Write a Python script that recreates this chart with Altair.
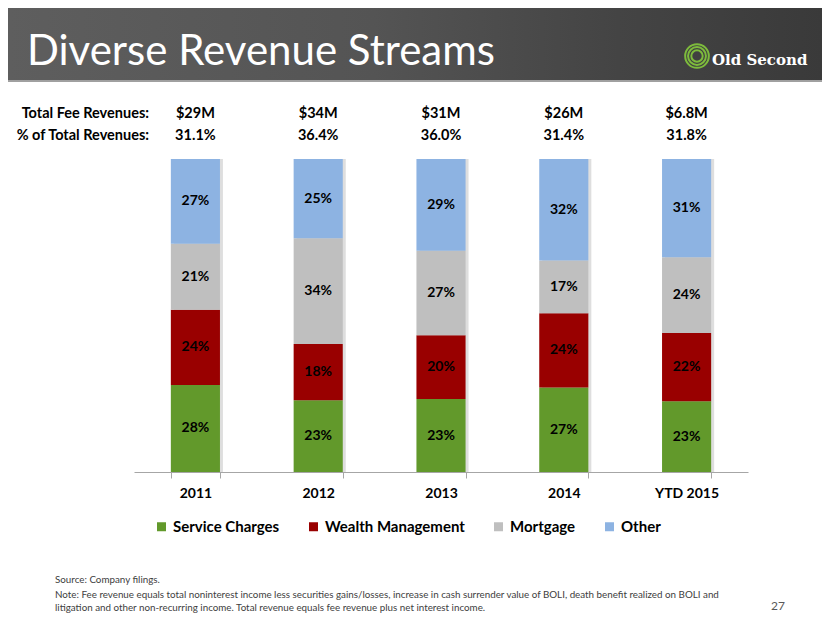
import altair as alt
import pandas as pd

# ---------------- data ----------------
years = ["2011", "2012", "2013", "2014", "YTD 2015"]
fee_revenues = ["$29M", "$34M", "$31M", "$26M", "$6.8M"]
pct_of_total = ["31.1%", "36.4%", "36.0%", "31.4%", "31.8%"]

categories = ["Service Charges", "Wealth Management", "Mortgage", "Other"]
colors = ["#62992b", "#990000", "#bfbfbf", "#8db3e2"]

service_charges = [27.8, 22.9, 23.3, 27.0, 22.6]
wealth_management = [24.0, 18.0, 20.4, 23.7, 21.8]
mortgage = [21.1, 33.8, 27.0, 16.9, 24.2]
other = [27.1, 25.3, 29.3, 32.4, 31.4]

title_text = "Diverse Revenue Streams"
logo_text = "Old Second"
row_labels = ["Total Fee Revenues:", "% of Total Revenues:"]
foot_lines = [
    "Source: Company filings.",
    "Note: Fee revenue equals total noninterest income less securities gains/losses, increase in cash surrender value of BOLI, death benefit realized on BOLI and",
    "litigation and other non-recurring income. Total revenue equals fee revenue plus net interest income.",
]
page_number = "27"

# ---------------- tables ----------------
series = [service_charges, wealth_management, mortgage, other]
rows = []
for ci, (cat, vals) in enumerate(zip(categories, series)):
    for yr, v in zip(years, vals):
        rows.append({"year": yr, "category": cat, "value": v, "order": ci})
df = pd.DataFrame(rows)

df_year = pd.DataFrame({"year": years, "fee": fee_revenues, "pct": pct_of_total})

FONT = "Lato"

x_enc = alt.X(
    "year:N",
    sort=years,
    scale=alt.Scale(paddingInner=0.6, paddingOuter=0.3),
    axis=alt.Axis(
        title=None,
        labelAngle=0,
        labelFont=FONT,
        labelFontWeight="bold",
        labelFontSize=14,
        labelColor="#000000",
        labelPadding=8,
        tickBand="extent",
        tickSize=6,
        tickColor="#a6a6a6",
        domainColor="#a6a6a6",
        grid=False,
    ),
)

# ---------------- header decoration ----------------
one = pd.DataFrame({"a": [0]})
header_bg = alt.Chart(one).mark_rect(
    fill=alt.Gradient(
        gradient="linear",
        stops=[
            alt.GradientStop(color="#5e5e5e", offset=0),
            alt.GradientStop(color="#545454", offset=0.45),
            alt.GradientStop(color="#444444", offset=0.75),
            alt.GradientStop(color="#3a3a3a", offset=1),
        ],
        x1=0, x2=1, y1=0, y2=0,
    )
).encode(x=alt.value(-126), x2=alt.value(688), y=alt.value(-151), y2=alt.value(-79))

header_line = alt.Chart(one).mark_rect(color="#a0a0a0").encode(
    x=alt.value(-126), x2=alt.value(688), y=alt.value(-79), y2=alt.value(-77)
)

title = alt.Chart(pd.DataFrame({"t": [title_text]})).mark_text(
    align="left", baseline="alphabetic", font=FONT, fontSize=42, color="#ffffff"
).encode(x=alt.value(-107), y=alt.value(-94), text="t:N")

logo = alt.Chart(pd.DataFrame({"t": [logo_text]})).mark_text(
    align="left", baseline="alphabetic", font="DejaVu Serif", fontWeight="bold",
    fontSize=15, color="#ffffff"
).encode(x=alt.value(578), y=alt.value(-94), text="t:N")

icon = alt.Chart(pd.DataFrame({"s": [560, 320, 130]})).mark_point(
    filled=False, strokeWidth=2, color="#7dbb3c", opacity=1
).encode(x=alt.value(563), y=alt.value(-103), size=alt.Size("s:Q", scale=None, legend=None))

# ---------------- top rows ----------------
row_text = alt.Chart(pd.DataFrame({"t": row_labels, "y": [-45, -23]})).mark_text(
    align="right", baseline="middle", font=FONT, fontWeight="bold", fontSize=14.5, color="#000000"
).encode(x=alt.value(15), y=alt.Y("y:Q", scale=None), text="t:N")

fee_text = alt.Chart(df_year).mark_text(
    baseline="middle", font=FONT, fontWeight="bold", fontSize=14.5, color="#000000"
).encode(x=x_enc, y=alt.value(-45), text="fee:N")

pct_text = alt.Chart(df_year).mark_text(
    baseline="middle", font=FONT, fontWeight="bold", fontSize=14.5, color="#000000"
).encode(x=x_enc, y=alt.value(-23), text="pct:N")

# ---------------- bars ----------------
y_scale = alt.Scale(domain=[0, 100], nice=False)

shadow = alt.Chart(df).mark_bar(xOffset=3, color="#000000", opacity=0.13).encode(
    x=x_enc,
    y=alt.Y("sum(value):Q", scale=y_scale, stack=None, axis=None),
)

bars = alt.Chart(df).mark_bar().encode(
    x=x_enc,
    y=alt.Y(
        "value:Q",
        stack="zero",
        scale=y_scale,
        axis=alt.Axis(
            title=None,
            values=list(range(0, 101, 10)),
            labelExpr="datum.value + '%'",
            labelFont=FONT,
            labelFontWeight="bold",
            labelFontSize=14,
            labelColor="#000000",
            labelPadding=6,
            tickSize=4,
            tickColor="#a6a6a6",
            domainColor="#a6a6a6",
            gridColor="#b3b3b3",
            gridWidth=1,
        ),
    ),
    color=alt.Color(
        "category:N",
        sort=categories,
        scale=alt.Scale(domain=categories, range=colors),
        legend=alt.Legend(
            title=None,
            orient="none",
            legendX=20,
            legendY=360,
            direction="horizontal",
            symbolType="square",
            symbolSize=81,
            symbolStrokeWidth=0,
            labelFont=FONT,
            labelFontWeight="bold",
            labelFontSize=15,
            labelColor="#000000",
            labelOffset=4,
            columnPadding=26,
            padding=0,
        ),
    ),
    order=alt.Order("order:Q", sort="ascending"),
)

seg_labels = alt.Chart(df).transform_stack(
    stack="value", groupby=["year"], sort=[alt.SortField("order", order="ascending")], as_=["y0", "y1"]
).transform_calculate(
    mid="(datum.y0 + datum.y1) / 2",
    label="format(datum.value, '.0f') + '%'",
).mark_text(
    baseline="middle", font=FONT, fontWeight="bold", fontSize=14, color="#000000"
).encode(
    x=x_enc,
    y=alt.Y("mid:Q", scale=y_scale),
    text="label:N",
)

# ---------------- footnotes ----------------
foot = alt.Chart(pd.DataFrame({"t": foot_lines, "y": [421, 435.5, 449]})).mark_text(
    align="left", baseline="middle", font=FONT, fontSize=9.8, color="#404040"
).encode(x=alt.value(-79), y=alt.Y("y:Q", scale=None), text="t:N")

pnum = alt.Chart(pd.DataFrame({"t": [page_number]})).mark_text(
    align="center", baseline="middle", font=FONT, fontSize=12, color="#595959"
).encode(x=alt.value(644), y=alt.value(447), text="t:N")

chart = alt.layer(
    header_bg, header_line, title, logo, icon,
    row_text, fee_text, pct_text,
    shadow, bars, seg_labels,
    foot, pnum,
).properties(
    width=614,
    height=313,
    padding={"left": 126, "top": 151, "right": 74, "bottom": 143},
    autosize=alt.AutoSizeParams(type="none"),
    background="#ffffff",
).configure_view(stroke=None)

chart.save("out.html", embed_options={"renderer": "svg", "actions": False})
